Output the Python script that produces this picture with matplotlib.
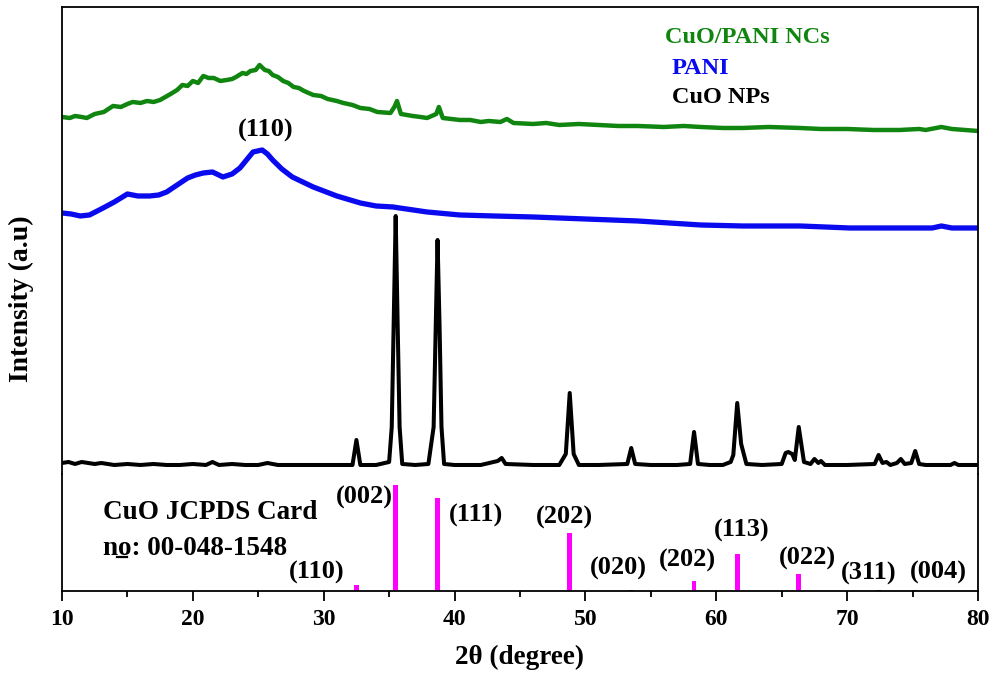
import matplotlib
matplotlib.use('Agg')
import matplotlib.pyplot as plt
from matplotlib import rcParams

rcParams['font.family'] = ['Liberation Serif', 'DejaVu Serif']
rcParams['font.weight'] = 'bold'

# CuO NPs (black)
cuo_x = [10, 10.5, 11, 11.5, 12, 12.5, 13, 14, 15, 16, 17, 18, 19, 20, 21, 21.5, 22, 23, 24, 25,
         25.7, 26.5, 28, 30, 31.5, 32.2, 32.5, 32.8, 33.2, 34, 35.0, 35.2, 35.5, 35.65, 35.8, 36.0,
         37, 38, 38.4, 38.7, 38.85, 39.0, 39.2, 40, 42, 43.3, 43.6, 43.9, 46, 48, 48.5, 48.8, 49.1,
         49.5, 51, 53.2, 53.5, 53.8, 55, 57, 58.0, 58.3, 58.6, 59.5, 60.5, 61.1, 61.3, 61.6, 61.9,
         62.3, 63.5, 65, 65.3, 65.5, 65.8, 66.0, 66.3, 66.7, 67.2, 67.5, 67.8, 68.0, 68.3, 70, 72.1,
         72.4, 72.7, 73.0, 73.3, 73.8, 74.1, 74.4, 74.9, 75.2, 75.5, 76, 77, 77.9, 78.2, 78.5, 79, 80]
cuo_y = [11, 12, 10, 12, 11, 10, 11, 9, 10, 9, 10, 9, 9, 10, 9, 12, 9, 10, 9, 9,
         11, 9, 9, 9, 9, 9, 34, 9, 9, 9, 12, 47, 258, 150, 47, 10,
         9, 10, 47, 234, 150, 47, 10, 9, 9, 13, 16, 10, 9, 9, 20, 81, 20,
         9, 9, 10, 26, 10, 9, 9, 10, 42, 10, 9, 9, 12, 19, 71, 30,
         10, 9, 10, 21, 22, 20, 14, 47, 12, 10, 15, 11, 13, 9, 9, 10,
         19, 11, 12, 9, 11, 15, 10, 11, 23, 10, 9, 9, 9, 11, 9, 9, 9]

# PANI (blue)
pani_x = [10, 10.7, 11.4, 12.1, 13, 14, 15, 15.8, 16.7, 17.4, 18, 18.8, 19.6, 20.2, 20.8, 21.5,
          22.3, 23, 23.6, 24.1, 24.6, 25.3, 25.7, 26.1, 26.8, 27.6, 28.4, 29.2, 30, 31, 32.8, 34,
          35.3, 35.8, 37.9, 40.4, 43, 46, 50, 54, 58.8, 62, 66.4, 70.2, 74, 76.5, 77.2, 78, 80]
pani_y = [261, 260, 258, 259, 265, 272, 280, 278, 278, 279, 282, 289, 296, 299, 301, 302,
          297, 300, 306, 314, 322, 324, 320, 314, 305, 297, 292, 287, 283, 278, 271, 268,
          267, 266, 262, 259, 258, 257, 255, 253, 249, 248, 248, 246, 246, 246, 248, 246, 246]

# CuO/PANI NCs (green)
nc_x = [10, 10.6, 11, 11.5, 11.9, 12.5, 13.2, 13.9, 14.5, 15.0, 15.4, 16.0, 16.5, 17.0, 17.5,
        18.3, 18.8, 19.2, 19.6, 20, 20.4, 20.8, 21.2, 21.6, 22.1, 22.6, 23.0, 23.3, 23.8, 24.1,
        24.4, 24.8, 25.1, 25.5, 25.8, 26.1, 26.5, 26.9, 27.3, 27.7, 28.1, 28.5, 29.2, 29.8, 30.3,
        31.0, 31.5, 32.2, 32.8, 33.5, 34.1, 35.1, 35.4, 35.6, 35.9, 36.8, 37.4, 37.9, 38.6, 38.8,
        39.1, 40.4, 41.2, 42, 42.6, 43.5, 44.0, 44.5, 46, 47, 48, 49.5, 51, 52.5, 54, 56, 57.5,
        58.8, 60.5, 62, 64, 66.4, 68, 70, 72, 74, 75.5, 76, 77.2, 78, 79, 80]
nc_y = [357, 356, 358, 357, 356, 360, 362, 368, 367, 370, 372, 371, 373, 372, 374,
        380, 384, 389, 388, 393, 391, 398, 396, 396, 393, 394, 395, 397, 401, 400,
        403, 404, 409, 404, 403, 399, 397, 393, 391, 387, 386, 383, 379, 378, 375,
        373, 371, 369, 366, 365, 362, 361, 367, 373, 360, 358, 357, 356, 360, 367,
        356, 354, 354, 352, 353, 352, 355, 351, 350, 351, 349, 350, 349, 348, 348, 347, 348,
        347, 346, 346, 347, 346, 345, 345, 344, 344, 345, 344, 347, 345, 344, 343]

# JCPDS 00-048-1548 reference lines
ref_pos = [32.5, 35.5, 38.7, 48.8, 53.5, 58.3, 61.6, 66.3, 72.4, 75.2]
ref_int = [6, 106, 93, 58, 1, 10, 37, 17, 1, 1]
hkl_text = ['(110)', '(002)', '(111)', '(202)', '(020)', '(202)', '(113)', '(022)', '(311)', '(004)']
hkl_x = [29.49, 33.08, 41.64, 48.36, 52.49, 57.76, 61.96, 66.93, 71.67, 76.94]
hkl_y = [19, 94, 76, 74, 23, 31, 61, 33, 18, 19]

fig = plt.figure(figsize=(9.9, 6.78), dpi=100)
ax1 = fig.add_axes([0.0626, 0.3009, 0.9253, 0.6888])
ax2 = fig.add_axes([0.0626, 0.1283, 0.9253, 0.1726], sharex=ax1)

ax1.plot(nc_x, nc_y, color='#108510', lw=3.2, solid_joinstyle='round')
ax1.plot(pani_x, pani_y, color='#0a0aee', lw=3.8, solid_joinstyle='round')
ax1.plot(cuo_x, cuo_y, color='black', lw=2.9, solid_joinstyle='round')
ax1.set_xlim(10, 80)
ax1.set_ylim(0, 467)
ax1.set_yticks([])
ax1.spines['bottom'].set_visible(False)
ax1.tick_params(axis='x', bottom=False, labelbottom=False)

ax1.text(25.6, 344, '(110)', ha='center', va='center', fontsize=19, fontweight='bold')
ax1.text(56.08, 436, 'CuO/PANI NCs', color='#108510', ha='left', va='center', fontsize=17.5, fontweight='bold')
ax1.text(56.6, 405, 'PANI', color='#0a0aee', ha='left', va='center', fontsize=17.5, fontweight='bold')
ax1.text(56.6, 376, 'CuO NPs', color='black', ha='left', va='center', fontsize=17.5, fontweight='bold')

ax2.bar(ref_pos, ref_int, width=0.35, color='#ff00ff', bottom=0)
ax2.set_ylim(0, 117)
ax2.set_yticks([])
ax2.spines['top'].set_visible(False)
for t, x, y in zip(hkl_text, hkl_x, hkl_y):
    ax2.text(x, y, t, ha='center', va='center', fontsize=19, fontweight='bold')
ax2.text(13.13, 78, 'CuO JCPDS Card', ha='left', va='center', fontsize=19.5, fontweight='bold')
ax2.text(13.13, 43, 'no: 00-048-1548', ha='left', va='center', fontsize=19.5, fontweight='bold')
ax2.plot([0.060, 0.071], [0.29, 0.29], color='black', lw=1.6, transform=ax2.transAxes)

ax2.set_xticks([10, 20, 30, 40, 50, 60, 70, 80])
ax2.set_xticks([15, 25, 35, 45, 55, 65, 75], minor=True)
ax2.tick_params(axis='x', which='major', direction='out', length=7, width=1.3, labelsize=17, pad=6)
ax2.tick_params(axis='x', which='minor', direction='out', length=4, width=1.3)
ax2.set_xlabel('2θ (degree)', fontsize=19.5, fontweight='bold', labelpad=11)

for ax in (ax1, ax2):
    for s in ax.spines.values():
        s.set_linewidth(1.3)

fig.text(0.022, 0.56, 'Intensity (a.u)', rotation=90, ha='center', va='center', fontsize=20, fontweight='bold')

fig.savefig('out.png', dpi=100)
